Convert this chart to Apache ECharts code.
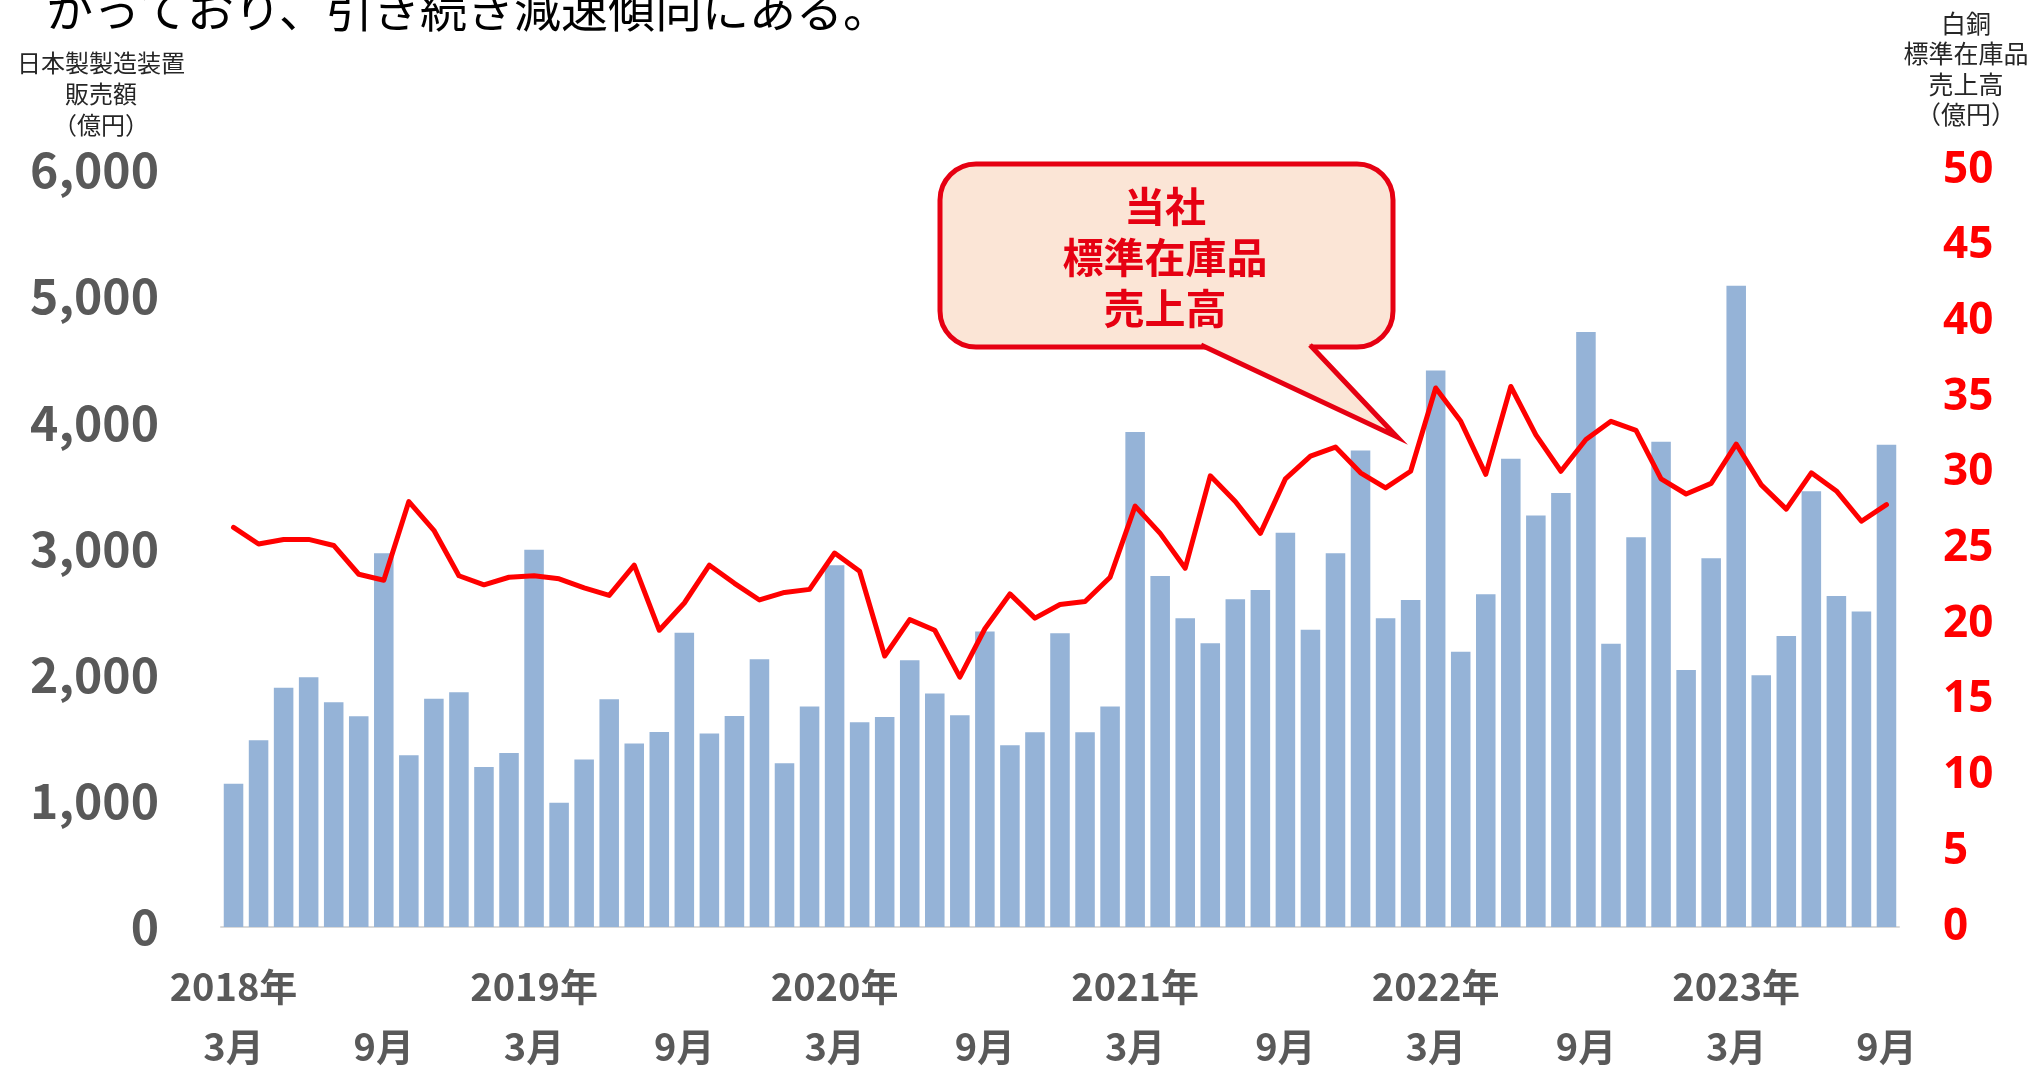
<!DOCTYPE html>
<html>
<head>
<meta charset="utf-8">
<script src="https://cdn.jsdelivr.net/npm/echarts@6/dist/echarts.min.js"></script>
<style>
  html, body { margin: 0; padding: 0; background: #fff; }
  #chart { width: 2031px; height: 1066px; }
</style>
</head>
<body>
<div id="chart"></div>
<script>
// 月次カテゴリ（2018年3月〜2023年9月）
const months = [
  '2018/03', '2018/04', '2018/05', '2018/06', '2018/07', '2018/08', '2018/09', '2018/10', '2018/11', '2018/12',
  '2019/01', '2019/02', '2019/03', '2019/04', '2019/05', '2019/06', '2019/07', '2019/08', '2019/09', '2019/10', '2019/11', '2019/12',
  '2020/01', '2020/02', '2020/03', '2020/04', '2020/05', '2020/06', '2020/07', '2020/08', '2020/09', '2020/10', '2020/11', '2020/12',
  '2021/01', '2021/02', '2021/03', '2021/04', '2021/05', '2021/06', '2021/07', '2021/08', '2021/09', '2021/10', '2021/11', '2021/12',
  '2022/01', '2022/02', '2022/03', '2022/04', '2022/05', '2022/06', '2022/07', '2022/08', '2022/09', '2022/10', '2022/11', '2022/12',
  '2023/01', '2023/02', '2023/03', '2023/04', '2023/05', '2023/06', '2023/07', '2023/08', '2023/09'
];

// 日本製製造装置 販売額（億円）
const equipmentSales = [
  1136, 1481, 1897, 1979, 1781, 1671, 2963, 1362, 1809, 1860,
  1269, 1379, 2991, 985, 1328, 1806, 1455, 1546, 2332, 1534, 1673, 2123,
  1297, 1747, 2867, 1622, 1665, 2114, 1851, 1679, 2343, 1441, 1543, 2329,
  1543, 1747, 3924, 2783, 2448, 2250, 2598, 2671, 3124, 2357, 2963, 3777,
  2448, 2592, 4410, 2182, 2637, 3712, 3262, 3439, 4716, 2246, 3090, 3847,
  2037, 2923, 5082, 1995, 2306, 3453, 2623, 2501, 3823
];

// 白銅 標準在庫品 売上高（億円）
const stockSales = [
  26.4, 25.3, 25.6, 25.6, 25.2, 23.3, 22.9, 28.1, 26.2, 23.2,
  22.6, 23.1, 23.2, 23.0, 22.4, 21.9, 23.9, 19.6, 21.4, 23.9, 22.7, 21.6,
  22.1, 22.3, 24.7, 23.5, 17.9, 20.3, 19.6, 16.5, 19.7, 22.0, 20.4, 21.3,
  21.5, 23.1, 27.8, 26.0, 23.7, 29.8, 28.1, 26.0, 29.6, 31.1, 31.7, 30.0,
  29.0, 30.1, 35.6, 33.4, 29.9, 35.7, 32.5, 30.1, 32.2, 33.4, 32.8, 29.6,
  28.6, 29.3, 31.9, 29.2, 27.6, 30.0, 28.8, 26.8, 27.9
];

const leftTitle = '日本製製造装置\n販売額\n（億円）';
const rightTitle = '白銅\n標準在庫品\n売上高\n（億円）';
const calloutText = '当社\n標準在庫品\n売上高';
const headText = 'かっており、引き続き減速傾向にある。';

const FONT = '"Noto Sans CJK JP", "Noto Sans", sans-serif';
const GRAY = '#595959';
const CALLOUT_RED = '#E60012';

const myChart = echarts.init(document.getElementById('chart'), null, { renderer: 'canvas' });

myChart.setOption({
  animation: false,
  backgroundColor: '#fff',
  grid: { left: 221, right: 132, top: 170, bottom: 139 },
  xAxis: {
    type: 'category',
    data: months,
    boundaryGap: true,
    axisTick: { show: false },
    axisLine: { lineStyle: { color: '#D9D9D9', width: 2 } },
    axisLabel: {
      interval: 0,
      margin: 30,
      formatter: (value) => {
        const [y, m] = value.split('/');
        if (m === '03') return '{y|' + y + '年}\n{m|3月}';
        if (m === '09') return '{y| }\n{m|9月}';
        return '';
      },
      rich: {
        y: { fontFamily: FONT, fontWeight: 'bold', fontSize: 38, color: GRAY, lineHeight: 60 },
        m: { fontFamily: FONT, fontWeight: 'bold', fontSize: 38, color: GRAY, lineHeight: 60 },
      },
    },
  },
  yAxis: [
    {
      type: 'value',
      min: 0,
      max: 6000,
      interval: 1000,
      splitLine: { show: false },
      axisLine: { show: false },
      axisTick: { show: false },
      axisLabel: {
        margin: 62,
        fontFamily: FONT,
        fontWeight: 'bold',
        fontSize: 48,
        color: GRAY,
        formatter: (v) => v.toLocaleString('en-US'),
      },
    },
    {
      type: 'value',
      min: 0,
      max: 50,
      interval: 5,
      position: 'right',
      splitLine: { show: false },
      axisLine: { show: false },
      axisTick: { show: false },
      axisLabel: {
        margin: 44,
        fontFamily: '"Noto Sans", sans-serif',
        fontWeight: 'bold',
        fontSize: 44,
        color: '#FF0000',
      },
    },
  ],
  series: [
    {
      name: '日本製製造装置販売額',
      type: 'bar',
      data: equipmentSales,
      barCategoryGap: '22%',
      itemStyle: { color: '#95B3D7' },
      z: 2,
    },
    {
      name: '標準在庫品売上高',
      type: 'line',
      yAxisIndex: 1,
      data: stockSales,
      symbol: 'none',
      lineStyle: { color: '#FF0000', width: 5, join: 'round', cap: 'round' },
      z: 3,
    },
  ],
  graphic: [
    // 上部の本文（途中で切れている）
    {
      type: 'text', x: 46, y: -14, z: 50,
      style: { text: headText, fill: '#000', font: '47px ' + FONT, align: 'left', verticalAlign: 'top' },
    },
    // 左軸タイトル
    {
      type: 'text', x: 101, y: 47, z: 50,
      style: { text: leftTitle, fill: '#262626', font: '24px ' + FONT, align: 'center', verticalAlign: 'top', lineHeight: 31 },
    },
    // 右軸タイトル
    {
      type: 'text', x: 1966, y: 8, z: 50,
      style: { text: rightTitle, fill: '#262626', font: '25px ' + FONT, align: 'center', verticalAlign: 'top', lineHeight: 30.5 },
    },
    // 吹き出し
    {
      type: 'rect', z: 100,
      shape: { x: 940, y: 164, width: 453, height: 183, r: 36 },
      style: { fill: '#FBE5D6', stroke: CALLOUT_RED, lineWidth: 5 },
    },
    {
      type: 'polygon', z: 101,
      shape: { points: [[1196, 342], [1307, 342], [1397, 437]] },
      style: { fill: '#FBE5D6' },
    },
    {
      type: 'polyline', z: 102,
      shape: { points: [[1201, 345], [1397, 437], [1310, 345]] },
      style: { stroke: CALLOUT_RED, lineWidth: 5, fill: null, lineJoin: 'miter' },
    },
    {
      type: 'text', x: 1165, y: 181, z: 103,
      style: { text: calloutText, fill: CALLOUT_RED, font: 'bold 41px ' + FONT, align: 'center', verticalAlign: 'top', lineHeight: 51 },
    },
  ],
});
</script>
</body>
</html>
